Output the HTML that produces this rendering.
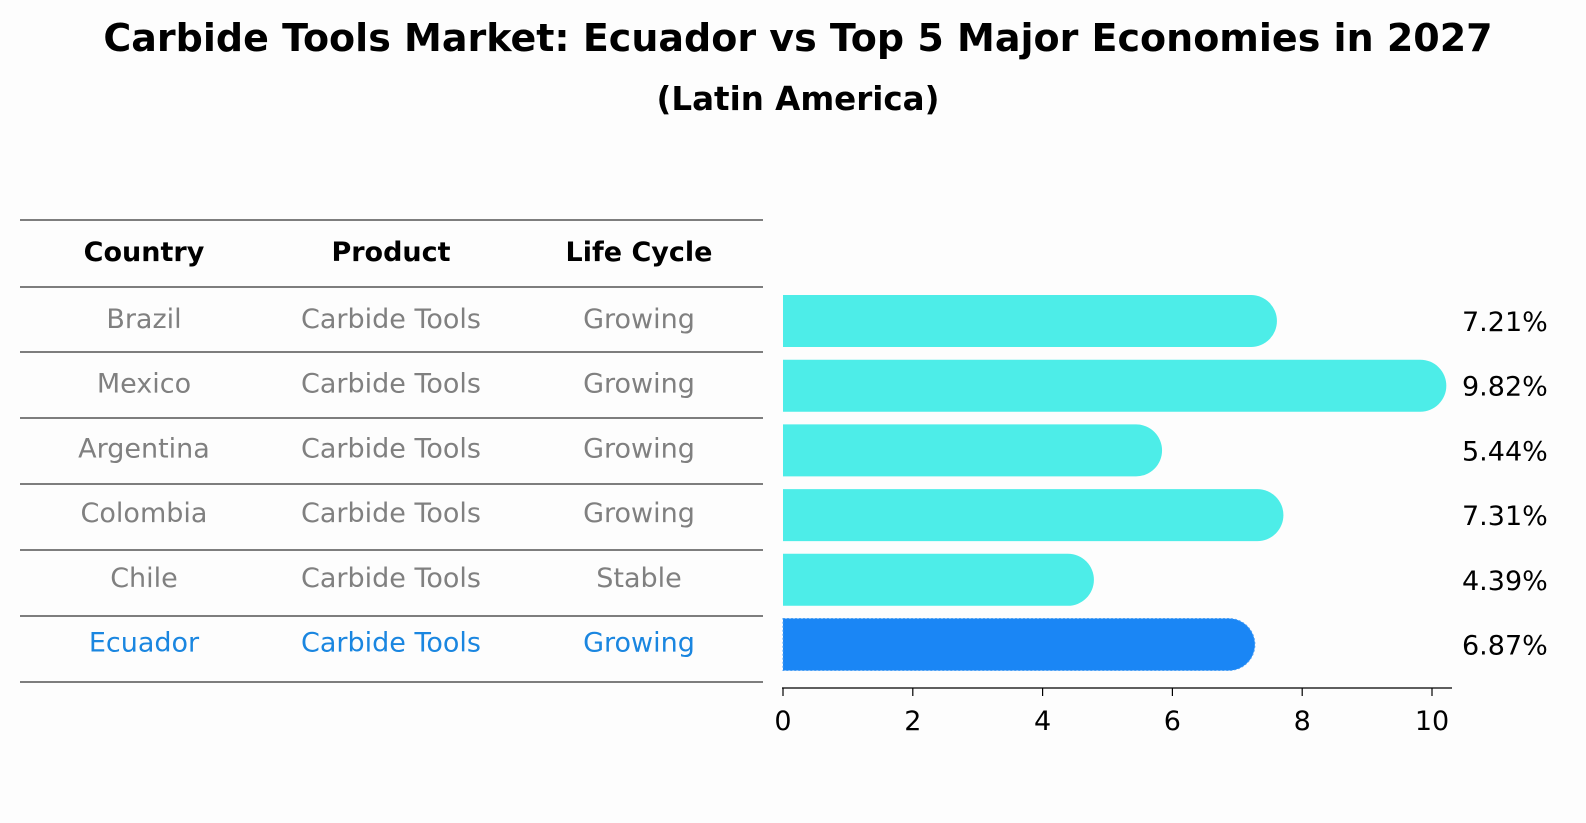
<!DOCTYPE html>
<html><head><meta charset="utf-8"><style>
html,body{margin:0;padding:0;width:1586px;height:823px;overflow:hidden;background:#fdfdfd}
svg{display:block}
svg text{font-family:"DejaVu Sans","Liberation Sans",sans-serif}
</style></head><body>
<svg id="c" width="1586" height="823">
<text x="798" y="51" text-anchor="middle" style="font-size:38px;font-weight:bold">Carbide Tools Market: Ecuador vs Top 5 Major Economies in 2027</text>
<text x="798" y="110" text-anchor="middle" style="font-size:32.5px;font-weight:bold">(Latin America)</text>
<g id="tbl"></g>
<g id="bars"></g>
</svg>
<script>
const countries=["Brazil","Mexico","Argentina","Colombia","Chile","Ecuador"];
const products=["Carbide Tools","Carbide Tools","Carbide Tools","Carbide Tools","Carbide Tools","Carbide Tools"];
const lifecycles=["Growing","Growing","Growing","Growing","Stable","Growing"];
const values=[7.21,9.82,5.44,7.31,4.39,6.87];
const ticks=[0,2,4,6,8,10];
const NS="http://www.w3.org/2000/svg";
const FS=27;
function mk(t,a,p,txt){const e=document.createElementNS(NS,t);for(const k in a)e.setAttribute(k,a[k]);if(txt!==undefined)e.textContent=txt;p.appendChild(e);return e;}
const tbl=document.getElementById('tbl'),bars=document.getElementById('bars');
const rowY=i=>321+i*64.7;
const xs=v=>783+v*64.9;
const colX=[144,391,639];
const lines=[220,287,352,418,484,550,616,682];
lines.forEach(y=>{const l=mk('line',{x1:20,x2:763,y1:y,y2:y,stroke:'#000','stroke-width':1},tbl);

});
["Country","Product","Life Cycle"].forEach((h,j)=>{const t=mk('text',{x:colX[j],y:261,'text-anchor':'middle',style:`font-size:${FS}px;font-weight:bold`},tbl,h);

});
countries.forEach((c,i)=>{const col=i===countries.length-1?'#1a86e0':'#808080';
[c,products[i],lifecycles[i]].forEach((v,j)=>{const t=mk('text',{x:colX[j],y:rowY(i)+7,'text-anchor':'middle',style:`font-size:${FS}px`,fill:col},tbl,v);

});});
const h=52;
values.forEach((v,i)=>{const last=i===values.length-1;const fill=last?'#1a86f5':'#4dede8';const y=rowY(i);
const g=mk('g',{},bars);


mk('path',{d:`M${xs(0)},${y-h/2} H${xs(v)} A${h/2},${h/2} 0 0 1 ${xs(v)},${y+h/2} H${xs(0)} Z`,fill:fill,stroke:last?'#4a9ff5':'none','stroke-dasharray':last?'2,2':'none'},g);
const t=mk('text',{x:1462,y:y+10,style:`font-size:${FS}px`},bars,v.toFixed(2)+'%');

});
const ax=mk('line',{x1:782,x2:1452,y1:688,y2:688,stroke:'#000','stroke-width':1.2},bars);


ticks.forEach(t=>{mk('line',{x1:xs(t),x2:xs(t),y1:688,y2:696,stroke:'#000','stroke-width':1.2},bars);
const l=mk('text',{x:xs(t),y:730,'text-anchor':'middle',style:`font-size:${FS}px`},bars,t);

});
</script>
</body></html>
